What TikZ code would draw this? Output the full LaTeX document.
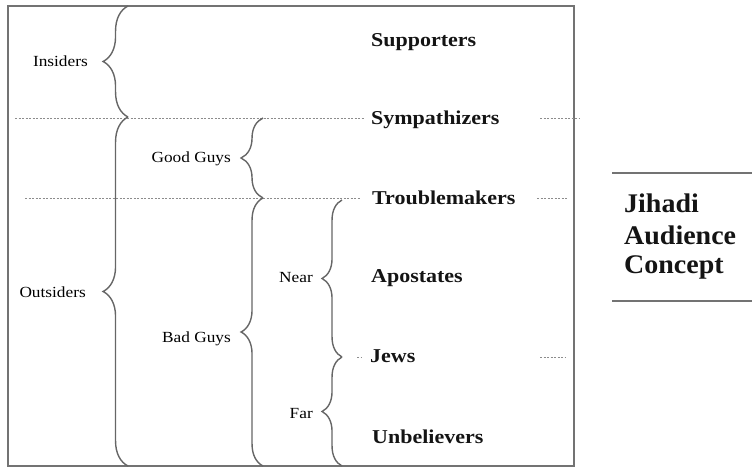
\documentclass[tikz,border=0pt]{standalone}
\usepackage{fontspec}
\setmainfont{Liberation Serif}
\usepackage{graphicx}
\usetikzlibrary{decorations.pathreplacing}
\newcommand\hstretch[1]{\scalebox{1.12}[1]{#1}}
\begin{document}
\begin{tikzpicture}[x=1bp,y=-1bp,
  frame/.style={draw=black!55, line width=1.5bp},
  sep/.style={draw=black!45, line width=0.9bp, dash pattern=on 2bp off 1.5bp},
  brc/.style={draw=black!60, line width=1.4bp, decorate, decoration={brace, amplitude=#1}},
  grp/.style={anchor=base east, inner sep=0pt, font=\fontsize{15.5}{18}\selectfont, text=black},
  aud/.style={anchor=base west, inner sep=0pt, font=\fontsize{19.7}{23}\selectfont\bfseries, text=black!92},
  ttl/.style={anchor=base west, inner sep=0pt, font=\fontsize{27}{30.5}\selectfont\bfseries, text=black!92},
  rule/.style={draw=black!55, line width=1.8bp},
]
\useasboundingbox (0,0) rectangle (752,471);
% frame
\coordinate (fTL) at (8,6);
\coordinate (fBR) at (574,466);
\draw[frame] (fTL) rectangle (fBR);
% dashed separators
\coordinate (s1a) at (15,118); \coordinate (s1b) at (365,118);
\coordinate (s1c) at (540,118); \coordinate (s1d) at (580,118);
\coordinate (s2a) at (25,198); \coordinate (s2b) at (360,198);
\coordinate (s2c) at (537,198); \coordinate (s2d) at (567,198);
\coordinate (s3a) at (357,357); \coordinate (s3b) at (362,357);
\coordinate (s3c) at (540,357); \coordinate (s3d) at (565,357);
\draw[sep] (s1a) -- (s1b); \draw[sep] (s1c) -- (s1d);
\draw[sep] (s2a) -- (s2b); \draw[sep] (s2c) -- (s2d);
\draw[sep] (s3a) -- (s3b); \draw[sep] (s3c) -- (s3d);
% braces
\coordinate (insT) at (128,6);   \coordinate (insB) at (128,117);
\coordinate (outT) at (128,117); \coordinate (outB) at (128,466);
\coordinate (ggT) at (263,118);  \coordinate (ggB) at (263,198);
\coordinate (bgT) at (263,198);  \coordinate (bgB) at (263,466);
\coordinate (nrT) at (342,200);  \coordinate (nrB) at (342,357);
\coordinate (frT) at (342,357);  \coordinate (frB) at (342,466);
\draw[brc=25] (insB) -- (insT);
\draw[brc=25] (outB) -- (outT);
\draw[brc=22] (ggB) -- (ggT);
\draw[brc=22] (bgB) -- (bgT);
\draw[brc=20] (nrB) -- (nrT);
\draw[brc=20] (frB) -- (frT);
% group labels
\node[grp] (ins) at (88,67) {\hstretch{Insiders}};
\node[grp] (out) at (86,298) {\hstretch{Outsiders}};
\node[grp] (gg) at (231,163) {\hstretch{Good Guys}};
\node[grp] (bg) at (231,343) {\hstretch{Bad Guys}};
\node[grp] (nr) at (313,283) {\hstretch{Near}};
\node[grp] (fr) at (313,418) {\hstretch{Far}};
% audience labels
\node[aud] (sup) at (371,47) {\hstretch{Supporters}};
\node[aud] (sym) at (371,125) {\hstretch{Sympathizers}};
\node[aud] (trb) at (372,205) {\hstretch{Troublemakers}};
\node[aud] (apo) at (371,283) {\hstretch{Apostates}};
\node[aud] (jew) at (370,363) {\hstretch{Jews}};
\node[aud] (unb) at (372,443) {\hstretch{Unbelievers}};
% title
\coordinate (r1a) at (612,173); \coordinate (r1b) at (752,173);
\coordinate (r2a) at (612,301); \coordinate (r2b) at (752,301);
\draw[rule] (r1a) -- (r1b);
\draw[rule] (r2a) -- (r2b);
\node[ttl] (t1) at (624,213) {\scalebox{1.04}[1]{Jihadi}};
\node[ttl] (t2) at (624,245) {\scalebox{1.04}[1]{Audience}};
\node[ttl] (t3) at (624,274) {\scalebox{1.04}[1]{Concept}};
\end{tikzpicture}
\end{document}
